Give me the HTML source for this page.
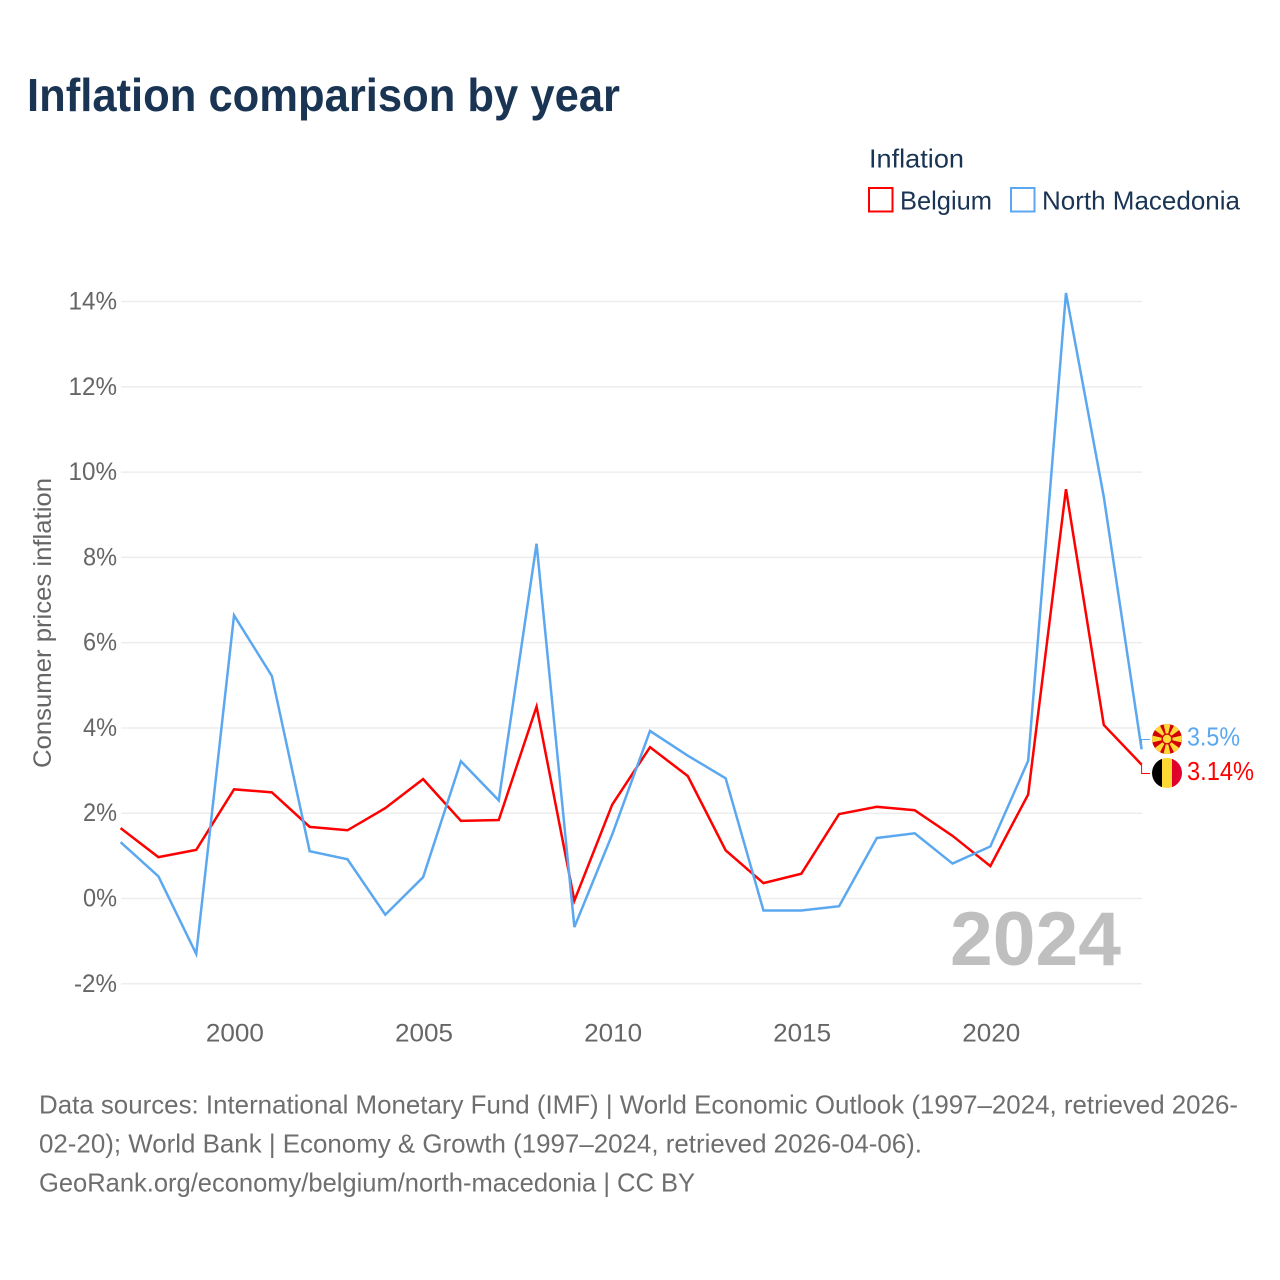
<!DOCTYPE html>
<html lang="en">
<head>
<meta charset="utf-8">
<title>Inflation comparison by year</title>
<style>
html,body{margin:0;padding:0;background:#fff;width:1280px;height:1280px;overflow:hidden}
svg{display:block}
text{font-family:"Liberation Sans",sans-serif}
</style>
</head>
<body>
<svg id="chart" width="1280" height="1280" viewBox="0 0 1280 1280" xmlns="http://www.w3.org/2000/svg">
  <rect x="0" y="0" width="1280" height="1280" fill="#fff"/>
  <text x="27" y="111" font-size="46" font-weight="700" fill="#1a3454" textLength="593" lengthAdjust="spacingAndGlyphs">Inflation comparison by year</text>

  <g>
    <text x="869" y="167.5" font-size="26" fill="#1a3454" textLength="95" lengthAdjust="spacingAndGlyphs">Inflation</text>
    <rect x="869" y="188" width="23.5" height="23.5" fill="none" stroke="#ff0000" stroke-width="2"/>
    <text x="900" y="209.5" font-size="26" fill="#1a3454" textLength="92" lengthAdjust="spacingAndGlyphs">Belgium</text>
    <rect x="1011" y="188" width="23.5" height="23.5" fill="none" stroke="#5ba8f0" stroke-width="2"/>
    <text x="1042" y="209.5" font-size="26" fill="#1a3454" textLength="198" lengthAdjust="spacingAndGlyphs">North Macedonia</text>
  </g>

  <g id="grid"></g>
  <g id="yTicks"></g>
  <g id="xTicks"></g>
  <text transform="translate(51,768) rotate(-90)" x="0" y="0" font-size="25" fill="#666666" textLength="290" lengthAdjust="spacingAndGlyphs">Consumer prices inflation</text>

  <text x="950" y="965" font-size="76" font-weight="700" fill="#bfbfbf" textLength="171" lengthAdjust="spacingAndGlyphs">2024</text>

  <path id="lineBE" fill="none" stroke="#ff0000" stroke-width="2.5" stroke-linejoin="miter"/>
  <path id="lineMK" fill="none" stroke="#5ba8f0" stroke-width="2.5" stroke-linejoin="miter"/>
  <path id="connBE" fill="none" stroke="#ff0000" stroke-width="1"/>
  <path id="connMK" fill="none" stroke="#5ba8f0" stroke-width="1"/>

  <defs>
    <clipPath id="clipMK"><circle cx="1167" cy="739" r="15"/></clipPath>
    <clipPath id="clipBE"><circle cx="1167" cy="773" r="15"/></clipPath>
  </defs>
  <g clip-path="url(#clipMK)">
    <rect x="1152" y="724" width="30" height="30" fill="#d20000"/>
    <g fill="#ffd83a">
      <polygon points="1163.5,724 1170.5,724 1167,739"/>
      <polygon points="1163.5,754 1170.5,754 1167,739"/>
      <polygon points="1152,735.5 1152,742.5 1167,739"/>
      <polygon points="1182,735.5 1182,742.5 1167,739"/>
      <polygon points="1152,728 1158,722 1167,739"/>
      <polygon points="1182,728 1176,722 1167,739"/>
      <polygon points="1152,750 1158,756 1167,739"/>
      <polygon points="1182,750 1176,756 1167,739"/>
    </g>
    <circle cx="1167" cy="739" r="5.5" fill="#d20000"/>
    <circle cx="1167" cy="739" r="4.2" fill="#ffd83a"/>
  </g>
  <g clip-path="url(#clipBE)">
    <rect x="1152" y="758" width="10" height="30" fill="#000"/>
    <rect x="1162" y="758" width="10" height="30" fill="#fdd835"/>
    <rect x="1172" y="758" width="10" height="30" fill="#e0002b"/>
  </g>
  <text x="1187" y="745.5" font-size="25.5" fill="#5ba8f0" textLength="53" lengthAdjust="spacingAndGlyphs">3.5%</text>
  <text x="1187" y="780" font-size="25.5" fill="#ff0000" textLength="67" lengthAdjust="spacingAndGlyphs">3.14%</text>

  <g font-size="26" fill="#6e6e6e">
    <text x="39" y="1113.5" textLength="1199" lengthAdjust="spacingAndGlyphs">Data sources: International Monetary Fund (IMF) | World Economic Outlook (1997–2024, retrieved 2026-</text>
    <text x="39" y="1152.5" textLength="883" lengthAdjust="spacingAndGlyphs">02-20); World Bank | Economy &amp; Growth (1997–2024, retrieved 2026-04-06).</text>
    <text x="39" y="1191.5" textLength="656" lengthAdjust="spacingAndGlyphs">GeoRank.org/economy/belgium/north-macedonia | CC BY</text>
  </g>
</svg>
<script>
const years = [1997,1998,1999,2000,2001,2002,2003,2004,2005,2006,2007,2008,2009,2010,2011,2012,2013,2014,2015,2016,2017,2018,2019,2020,2021,2022,2023,2024];
const belgium = [1.65,0.97,1.14,2.56,2.49,1.68,1.6,2.12,2.8,1.82,1.84,4.5,-0.05,2.2,3.55,2.87,1.13,0.36,0.58,1.98,2.15,2.07,1.47,0.76,2.44,9.6,4.07,3.14];
const northMacedonia = [1.32,0.52,-1.3,6.64,5.22,1.11,0.92,-0.38,0.5,3.22,2.3,8.32,-0.67,1.5,3.93,3.35,2.82,-0.28,-0.28,-0.18,1.42,1.53,0.82,1.22,3.23,14.2,9.42,3.5];
const yTickValues = [-2,0,2,4,6,8,10,12,14];
const yTickLabels = ["-2%","0%","2%","4%","6%","8%","10%","12%","14%"];
const xTickValues = [2000,2005,2010,2015,2020];
const xTickLabels = ["2000","2005","2010","2015","2020"];

const NS = "http://www.w3.org/2000/svg";
function xScale(year){ return 120.6 + (year - 1997) * (1141.6 - 120.6) / 27; }
function yScale(v){ return 898.5 - v * 42.64; }
function labelWidth(s){
  let w = 0;
  for (const c of s){ w += c === "%" ? 19.5 : c === "-" ? 9 : 14.5; }
  return w;
}
function linePath(values){
  return values.map((v,i) => (i ? "L" : "M") + xScale(years[i]).toFixed(2) + " " + yScale(v).toFixed(2)).join("");
}

const grid = document.getElementById("grid");
const yT = document.getElementById("yTicks");
yTickValues.forEach((v,i) => {
  const l = document.createElementNS(NS,"line");
  
  
  l.setAttribute("x1",121);
  l.setAttribute("x2",1142);
  l.setAttribute("y1",yScale(v));
  l.setAttribute("y2",yScale(v));
  l.setAttribute("stroke","#ededed");
  l.setAttribute("stroke-width","1.5");
  grid.appendChild(l);
  const t = document.createElementNS(NS,"text");
  
  
  const w = labelWidth(yTickLabels[i]);
  t.setAttribute("x",117 - w);
  t.setAttribute("y",yScale(v) + 8);
  t.setAttribute("font-size","25");
  t.setAttribute("fill","#666666");
  t.setAttribute("textLength",w);
  t.setAttribute("lengthAdjust","spacingAndGlyphs");
  t.textContent = yTickLabels[i];
  yT.appendChild(t);
});

const xT = document.getElementById("xTicks");
xTickValues.forEach((v,i) => {
  const t = document.createElementNS(NS,"text");
  
  
  const w = labelWidth(xTickLabels[i]);
  t.setAttribute("x",xScale(v) - w / 2 + 0.9);
  t.setAttribute("y",1041.5);
  t.setAttribute("font-size","25");
  t.setAttribute("fill","#666666");
  t.setAttribute("textLength",w);
  t.setAttribute("lengthAdjust","spacingAndGlyphs");
  t.textContent = xTickLabels[i];
  xT.appendChild(t);
});

document.getElementById("lineBE").setAttribute("d", linePath(belgium));
document.getElementById("lineMK").setAttribute("d", linePath(northMacedonia));

const endX = xScale(years[years.length - 1]);
document.getElementById("connBE").setAttribute("d", "M" + endX + " " + yScale(belgium[belgium.length - 1]) + "V773.5H1150");
document.getElementById("connMK").setAttribute("d", "M" + endX + " " + yScale(northMacedonia[northMacedonia.length - 1]) + "V739.5H1150");
</script>
</body>
</html>
